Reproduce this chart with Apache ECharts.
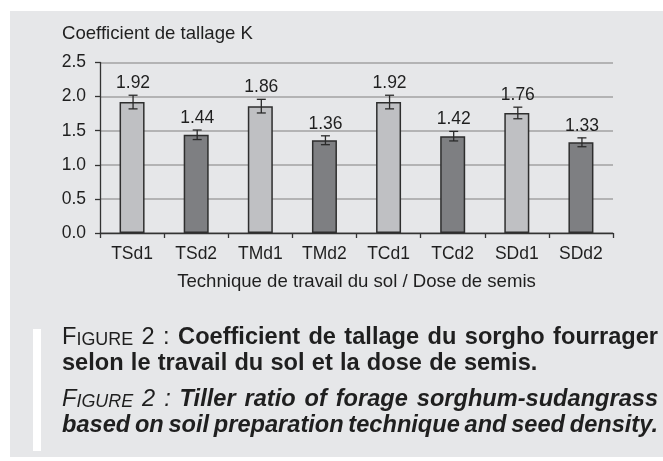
<!DOCTYPE html>
<html><head><meta charset="utf-8">
<script src="https://cdn.jsdelivr.net/npm/echarts@6/dist/echarts.min.js"></script>
<style>html,body{margin:0;padding:0;background:#fff}#c{width:663px;height:461px}</style>
</head><body><div id="c"></div>
<script>
// ---- data ----
const categories = ['TSd1','TSd2','TMd1','TMd2','TCd1','TCd2','SDd1','SDd2'];
const tillerK = [1.92, 1.44, 1.86, 1.36, 1.92, 1.42, 1.76, 1.33];
const errorK = [0.10, 0.07, 0.10, 0.065, 0.10, 0.07, 0.085, 0.065];
const doseGroup = ['d1','d2','d1','d2','d1','d2','d1','d2'];
const yTicks = [0, 0.5, 1.0, 1.5, 2.0, 2.5];
const yAxisTitle = 'Coefficient de tallage K';
const xAxisTitle = 'Technique de travail du sol / Dose de semis';
const captionLabel = 'Figure 2 :';
const captionFr = ['Coefficient de tallage du sorgho fourrager', 'selon le travail du sol et la dose de semis.'];
const captionEn = ['Tiller ratio of forage sorghum-sudangrass', 'based on soil preparation technique and seed density.'];

// ---- styles ----
const FONT = 'Liberation Sans';
const TXT = '#1f1f1f';
const doseColor = { d1: '#bfc0c3', d2: '#7e7f82' };
const BG = '#e6e7e9';

// ---- caption builder (justified lines) ----
const cv = document.createElement('canvas');
const ctx = cv.getContext('2d');
function fontStr(r){ return `${r.style} ${r.weight} ${r.size}px "${FONT}"`; }
function measure(r){ ctx.font = fontStr(r); return ctx.measureText(r.text).width; }
const CAP = 23.6;
function labelTokens(italic){
  const st = italic ? 'italic' : 'normal';
  const [fig, num, colon] = captionLabel.split(' ');
  return [
    [{text: fig[0].toUpperCase(), style: st, weight: 'normal', size: CAP},
     {text: fig.slice(1).toUpperCase(), style: st, weight: 'normal', size: CAP*0.76}],
    [{text: num, style: st, weight: 'normal', size: CAP}],
    [{text: colon, style: st, weight: 'normal', size: CAP}]
  ];
}
function wordTokens(str, italic){
  return str.split(' ').map(w => [{text: w, style: italic ? 'italic' : 'normal', weight: 'bold', size: CAP}]);
}
function buildLine(tokens, x0, x1, baseY, justify){
  const widths = tokens.map(t => t.reduce((s, r) => s + measure(r), 0));
  const total = widths.reduce((a, b) => a + b, 0);
  let gap = justify ? (x1 - x0 - total) / (tokens.length - 1)
                    : measure({text: ' ', style: tokens[0][0].style, weight: 'bold', size: CAP}) * 1.1;
  if (gap < 2) gap = 2;
  const els = [];
  let x = x0;
  tokens.forEach((t, i) => {
    t.forEach(r => {
      els.push({
        type: 'text', x: x, y: baseY - 0.3465 * r.size, z: 20,
        style: {text: r.text, fill: TXT, fontFamily: FONT, fontSize: r.size,
                fontWeight: r.weight, fontStyle: r.style, textAlign: 'left', textVerticalAlign: 'middle'}
      });
      x += measure(r);
    });
    x += gap;
  });
  return els;
}
const capX0 = 62, capX1 = 658;
let captionEls = [];
captionEls = captionEls.concat(buildLine(labelTokens(false).concat(wordTokens(captionFr[0], false)), capX0, capX1, 346, true));
captionEls = captionEls.concat(buildLine(wordTokens(captionFr[1], false), capX0, capX1, 372, false));
captionEls = captionEls.concat(buildLine(labelTokens(true).concat(wordTokens(captionEn[0], true)), capX0, capX1, 408, true));
captionEls = captionEls.concat(buildLine(wordTokens(captionEn[1], true), capX0, capX1, 434, true));

const chart = echarts.init(document.getElementById('c'), null, {renderer: 'canvas'});
const axisLineStyle = {color: '#333', width: 1.3};
chart.setOption({
  animation: false,
  backgroundColor: '#ffffff',
  textStyle: {fontFamily: FONT},
  title: {
    text: yAxisTitle, left: 62, top: 24, padding: 0,
    textStyle: {fontFamily: FONT, fontSize: 18.6, fontWeight: 'normal', color: TXT}
  },
  graphic: [
    {type: 'rect', z: -100, shape: {x: 10, y: 11, width: 653, height: 446}, style: {fill: BG}},
    {type: 'rect', z: -50, shape: {x: 33, y: 329, width: 8, height: 122}, style: {fill: '#ffffff'}}
  ].concat(captionEls),
  grid: {left: 100, right: 50, top: 62.5, bottom: 228, containLabel: false},
  xAxis: {
    type: 'category', data: categories,
    axisLine: {lineStyle: axisLineStyle},
    axisTick: {show: true, length: 5, lineStyle: axisLineStyle},
    axisLabel: {fontFamily: FONT, fontSize: 17.5, color: TXT, margin: 12},
    name: xAxisTitle, nameLocation: 'middle', nameGap: 39,
    nameTextStyle: {fontFamily: FONT, fontSize: 18.6, color: TXT}
  },
  yAxis: {
    type: 'value', min: yTicks[0], max: yTicks[yTicks.length - 1], interval: yTicks[1] - yTicks[0],
    axisLine: {show: true, lineStyle: axisLineStyle},
    axisTick: {show: true, length: 5, lineStyle: axisLineStyle},
    axisLabel: {fontFamily: FONT, fontSize: 17.5, color: TXT, margin: 14, formatter: v => v.toFixed(1)},
    splitLine: {show: true, lineStyle: {color: '#a2a2a2', width: 1.5}}
  },
  series: [
    {
      type: 'bar', barWidth: 25,
      data: tillerK.map((v, i) => ({value: v, itemStyle: {color: doseColor[doseGroup[i]]}})),
      itemStyle: {borderColor: '#2e2e2e', borderWidth: 1.5},
      z: 3
    },
    {
      type: 'custom', z: 5,
      encode: {x: 0, y: 1},
      data: categories.map((c, i) => [i, tillerK[i], errorK[i]]),
      renderItem: function (params, api) {
        const i = api.value(0), v = api.value(1), e = api.value(2);
        const top = api.coord([i, v + e]);
        const bot = api.coord([i, v - e]);
        const x = top[0] + 1, hw = 4.5;
        const ls = {stroke: '#2a2a2a', lineWidth: 1.3};
        return {type: 'group', children: [
          {type: 'line', shape: {x1: x, y1: top[1], x2: x, y2: bot[1]}, style: ls},
          {type: 'line', shape: {x1: x - hw, y1: top[1], x2: x + hw, y2: top[1]}, style: ls},
          {type: 'line', shape: {x1: x - hw, y1: bot[1], x2: x + hw, y2: bot[1]}, style: ls},
          {type: 'text', x: x, y: top[1] - 12,
           style: {text: v.toFixed(2), fill: TXT, fontFamily: FONT, fontSize: 17.5,
                   textAlign: 'center', textVerticalAlign: 'middle'}}
        ]};
      }
    }
  ]
});
</script>
</body></html>
